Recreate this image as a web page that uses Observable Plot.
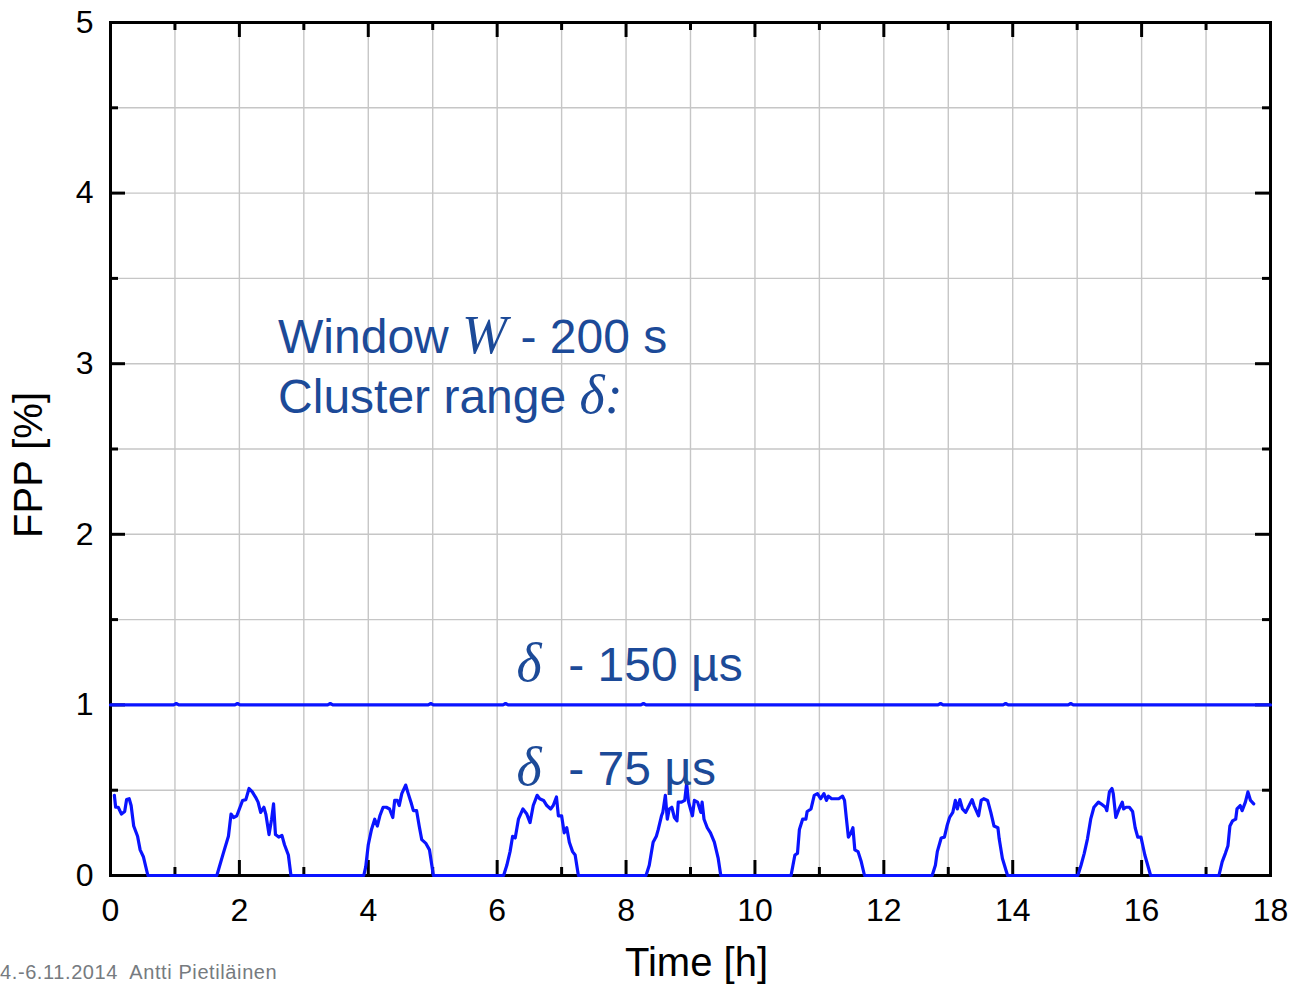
<!DOCTYPE html>
<html>
<head>
<meta charset="utf-8">
<script src="https://cdn.jsdelivr.net/npm/d3@7"></script>
<script src="https://cdn.jsdelivr.net/npm/@observablehq/plot@0.6"></script>
<style>
  html, body { margin: 0; padding: 0; background: #fff; }
  #chart { position: relative; width: 1291px; height: 985px; }
  #footer {
    position: absolute; left: 0; top: 961px;
    font: 20px "Liberation Sans", Arial, sans-serif; color: #767b80;
    letter-spacing: 0.6px; white-space: pre;
  }
</style>
</head>
<body>
<div id="chart"></div>
<script>
// False positive probability over time, cluster range 75 µs
const hours75 = [
  0.06, 0.08, 0.12, 0.17, 0.22, 0.25, 0.29, 0.32, 0.36, 0.42, 0.46, 0.51, 0.58,
  1.65, 1.75, 1.83, 1.87, 1.91, 1.96, 2.01, 2.05, 2.10, 2.15, 2.20, 2.25, 2.29, 2.33, 2.38, 2.41, 2.46, 2.50, 2.53, 2.56, 2.61, 2.66, 2.70, 2.76, 2.80,
  3.93, 3.96, 4.00, 4.05, 4.10, 4.14, 4.18, 4.23, 4.28, 4.33, 4.38, 4.41, 4.45, 4.48, 4.52, 4.58, 4.62, 4.67, 4.70, 4.75, 4.79, 4.83, 4.89, 4.95, 5.01,
  6.10, 6.15, 6.20, 6.24, 6.28, 6.33, 6.40, 6.46, 6.51, 6.56, 6.62, 6.66, 6.72, 6.77, 6.83, 6.87, 6.92, 6.95, 7.00, 7.04, 7.08, 7.12, 7.17, 7.21, 7.26,
  8.31, 8.36, 8.42, 8.47, 8.50, 8.55, 8.57, 8.61, 8.64, 8.67, 8.71, 8.75, 8.79, 8.81, 8.86, 8.91, 8.94, 8.97, 9.00, 9.03, 9.06, 9.11, 9.16, 9.18, 9.21, 9.26, 9.31, 9.37, 9.43, 9.47,
  10.56, 10.59, 10.62, 10.66, 10.69, 10.74, 10.79, 10.81, 10.87, 10.92, 10.97, 11.02, 11.07, 11.11, 11.14, 11.19, 11.24, 11.30, 11.36, 11.39, 11.42, 11.45, 11.49, 11.52, 11.55, 11.60, 11.65, 11.70,
  12.75, 12.80, 12.83, 12.89, 12.94, 12.98, 13.02, 13.07, 13.11, 13.14, 13.18, 13.22, 13.27, 13.31, 13.37, 13.40, 13.47, 13.51, 13.55, 13.61, 13.66, 13.71, 13.77, 13.79, 13.84, 13.92,
  15.01, 15.06, 15.11, 15.16, 15.21, 15.26, 15.33, 15.37, 15.44, 15.46, 15.50, 15.54, 15.56, 15.60, 15.65, 15.70, 15.72, 15.76, 15.81, 15.86, 15.90, 15.94, 15.99, 16.05, 16.14,
  17.20, 17.25, 17.30, 17.34, 17.37, 17.41, 17.46, 17.48, 17.53, 17.56, 17.61, 17.65, 17.69, 17.74
];
const fpp75 = [
  0.47, 0.40, 0.40, 0.36, 0.375, 0.445, 0.45, 0.41, 0.29, 0.23, 0.15, 0.11, 0.0,
  0.0, 0.13, 0.23, 0.36, 0.34, 0.35, 0.40, 0.44, 0.445, 0.51, 0.49, 0.46, 0.43, 0.37, 0.40, 0.36, 0.24, 0.33, 0.42, 0.24, 0.225, 0.235, 0.18, 0.12, 0.0,
  0.0, 0.05, 0.18, 0.27, 0.33, 0.29, 0.35, 0.40, 0.40, 0.39, 0.34, 0.44, 0.44, 0.41, 0.48, 0.53, 0.48, 0.42, 0.38, 0.38, 0.29, 0.21, 0.19, 0.15, 0.0,
  0.0, 0.06, 0.14, 0.23, 0.22, 0.33, 0.39, 0.36, 0.31, 0.41, 0.47, 0.45, 0.44, 0.41, 0.39, 0.41, 0.46, 0.35, 0.35, 0.25, 0.28, 0.195, 0.14, 0.12, 0.0,
  0.0, 0.06, 0.195, 0.23, 0.27, 0.35, 0.37, 0.47, 0.33, 0.39, 0.40, 0.34, 0.32, 0.43, 0.43, 0.44, 0.54, 0.43, 0.39, 0.35, 0.44, 0.43, 0.37, 0.43, 0.33, 0.28, 0.25, 0.195, 0.10, 0.0,
  0.0, 0.06, 0.12, 0.13, 0.27, 0.33, 0.33, 0.375, 0.39, 0.47, 0.48, 0.45, 0.48, 0.44, 0.465, 0.45, 0.45, 0.45, 0.465, 0.44, 0.33, 0.225, 0.25, 0.28, 0.15, 0.14, 0.08, 0.0,
  0.0, 0.06, 0.14, 0.22, 0.225, 0.29, 0.34, 0.37, 0.44, 0.39, 0.445, 0.39, 0.37, 0.40, 0.445, 0.41, 0.35, 0.44, 0.45, 0.44, 0.37, 0.29, 0.28, 0.215, 0.10, 0.0,
  0.0, 0.06, 0.13, 0.215, 0.33, 0.40, 0.43, 0.42, 0.40, 0.38, 0.49, 0.51, 0.48, 0.34, 0.39, 0.43, 0.39, 0.40, 0.40, 0.375, 0.28, 0.225, 0.225, 0.12, 0.0,
  0.0, 0.08, 0.13, 0.175, 0.29, 0.32, 0.33, 0.39, 0.41, 0.38, 0.43, 0.49, 0.44, 0.42
];

// Cluster range 150 µs: flat at 1 % with a few tiny blips
const hours150 = [0, 0.98, 1.02, 1.06, 1.93, 1.97, 2.01, 3.37, 3.41, 3.45, 4.93, 4.97, 5.01, 6.09, 6.13, 6.17,
  8.23, 8.27, 8.31, 12.84, 12.88, 12.92, 13.85, 13.89, 13.93, 14.86, 14.90, 14.94, 18];
const fpp150 = [1, 1, 1.008, 1, 1, 1.008, 1, 1, 1.008, 1, 1, 1.008, 1, 1, 1.008, 1,
  1, 1.008, 1, 1, 1.008, 1, 1, 1.008, 1, 1, 1.008, 1, 1];

// Axes, ticks and grid
const xMajor = [0, 2, 4, 6, 8, 10, 12, 14, 16, 18];
const xMinor = [1, 3, 5, 7, 9, 11, 13, 15, 17];
const yMajor = [0, 1, 2, 3, 4, 5];
const yMinor = [0.5, 1.5, 2.5, 3.5, 4.5];
const xGrid = [1, 2, 3, 4, 5, 6, 7, 8, 9, 10, 11, 12, 13, 14, 15, 16, 17];
const yGrid = [0.5, 1, 1.5, 2, 2.5, 3, 3.5, 4, 4.5];

// Annotations; text between bars is set in italic serif
const noteText = ["Window |W| - 200 s", "Cluster range |δ:|", "|δ|\u00a0\u00a0- 150 µs", "|δ|\u00a0\u00a0- 75 µs"];
const noteHour = [2.6, 2.6, 6.3, 6.3];
const noteFpp = [3.06, 2.71, 1.143, 0.528];

const footerText = "4.-6.11.2014  Antti Pietiläinen";

const W = 1291, H = 985;
const M = {top: 22, right: 21, bottom: 110, left: 110};
const innerW = W - M.left - M.right;
const innerH = H - M.top - M.bottom;
const majorLen = 15, minorLen = 8;
const lineBlue = "#0a14ff";
const noteBlue = "#1c4a98";

const series75 = hours75.map((h, i) => ({h, v: fpp75[i]}));
const series150 = hours150.map((h, i) => ({h, v: fpp150[i]}));
const notes = noteText.map((t, i) => ({t, h: noteHour[i], v: noteFpp[i]}));

const tickStyle = {stroke: "black", strokeWidth: 3};

const svg = Plot.plot({
  width: W,
  height: H,
  marginTop: M.top,
  marginRight: M.right,
  marginBottom: M.bottom,
  marginLeft: M.left,
  style: {fontFamily: "'Liberation Sans', Arial, sans-serif", background: "white", color: "black"},
  x: {domain: [0, 18]},
  y: {domain: [0, 5]},
  marks: [
    Plot.ruleX(xGrid, {x: d => d, stroke: "#c6c6c6", strokeWidth: 1.4}),
    Plot.ruleY(yGrid, {y: d => d, stroke: "#c6c6c6", strokeWidth: 1.4}),
    // inward ticks on all four sides
    Plot.tickX(xMajor, {x: d => d, insetTop: innerH - majorLen, ...tickStyle}),
    Plot.tickX(xMinor, {x: d => d, insetTop: innerH - minorLen, ...tickStyle}),
    Plot.tickX(xMajor, {x: d => d, insetBottom: innerH - majorLen, ...tickStyle}),
    Plot.tickX(xMinor, {x: d => d, insetBottom: innerH - minorLen, ...tickStyle}),
    Plot.tickY(yMajor, {y: d => d, insetRight: innerW - majorLen, ...tickStyle}),
    Plot.tickY(yMinor, {y: d => d, insetRight: innerW - minorLen, ...tickStyle}),
    Plot.tickY(yMajor, {y: d => d, insetLeft: innerW - majorLen, ...tickStyle}),
    Plot.tickY(yMinor, {y: d => d, insetLeft: innerW - minorLen, ...tickStyle}),
    Plot.frame({stroke: "black", strokeWidth: 3}),
    Plot.line(series150, {x: "h", y: "v", stroke: lineBlue, strokeWidth: 3.2}),
    Plot.line(series75, {x: "h", y: "v", stroke: lineBlue, strokeWidth: 3.2, strokeLinejoin: "round"}),
    Plot.axisX(xMajor, {tickSize: 0, tickPadding: 23, fontSize: 32, label: "Time [h]", labelAnchor: "center", labelOffset: 100, labelArrow: "none"}),
    Plot.axisY(yMajor, {tickSize: 0, tickPadding: 17, fontSize: 32, tickFormat: d => String(d), label: "FPP [%]", labelAnchor: "center", labelOffset: 97, labelArrow: "none"}),
    Plot.text(notes, {x: "h", y: "v", text: "t", textAnchor: "start", lineAnchor: "bottom", fontSize: 48, fill: noteBlue})
  ]
});

// larger axis titles, nudged slightly off-centre
const shiftGroup = (sel, dx, dy) => sel.attr("transform", (sel.attr("transform") || "") + ` translate(${dx},${dy})`);
const xTitle = d3.select(svg).select('[aria-label="x-axis label"]');
const yTitle = d3.select(svg).select('[aria-label="y-axis label"]');
xTitle.selectAll("text").style("font-size", "40px");
yTitle.selectAll("text").style("font-size", "40px");
shiftGroup(xTitle, 6, 0);
shiftGroup(yTitle, 0, 16);

// split annotations into upright sans and italic serif runs
d3.select(svg).selectAll("text").each(function() {
  if (this.children.length || !this.textContent.includes("|")) return;
  const parts = this.textContent.split("|");
  const el = d3.select(this);
  el.text(null);
  parts.forEach((p, i) => {
    if (!p) return;
    const ts = el.append("tspan").text(p);
    if (i % 2 === 1) {
      ts.style("font-family", "'Liberation Serif', 'Times New Roman', serif")
        .style("font-style", "italic")
        .style("font-size", "54px");
    }
  });
});

const chart = document.getElementById("chart");
chart.appendChild(svg);
const footer = document.createElement("div");
footer.id = "footer";
footer.textContent = footerText;
chart.appendChild(footer);
</script>
</body>
</html>
